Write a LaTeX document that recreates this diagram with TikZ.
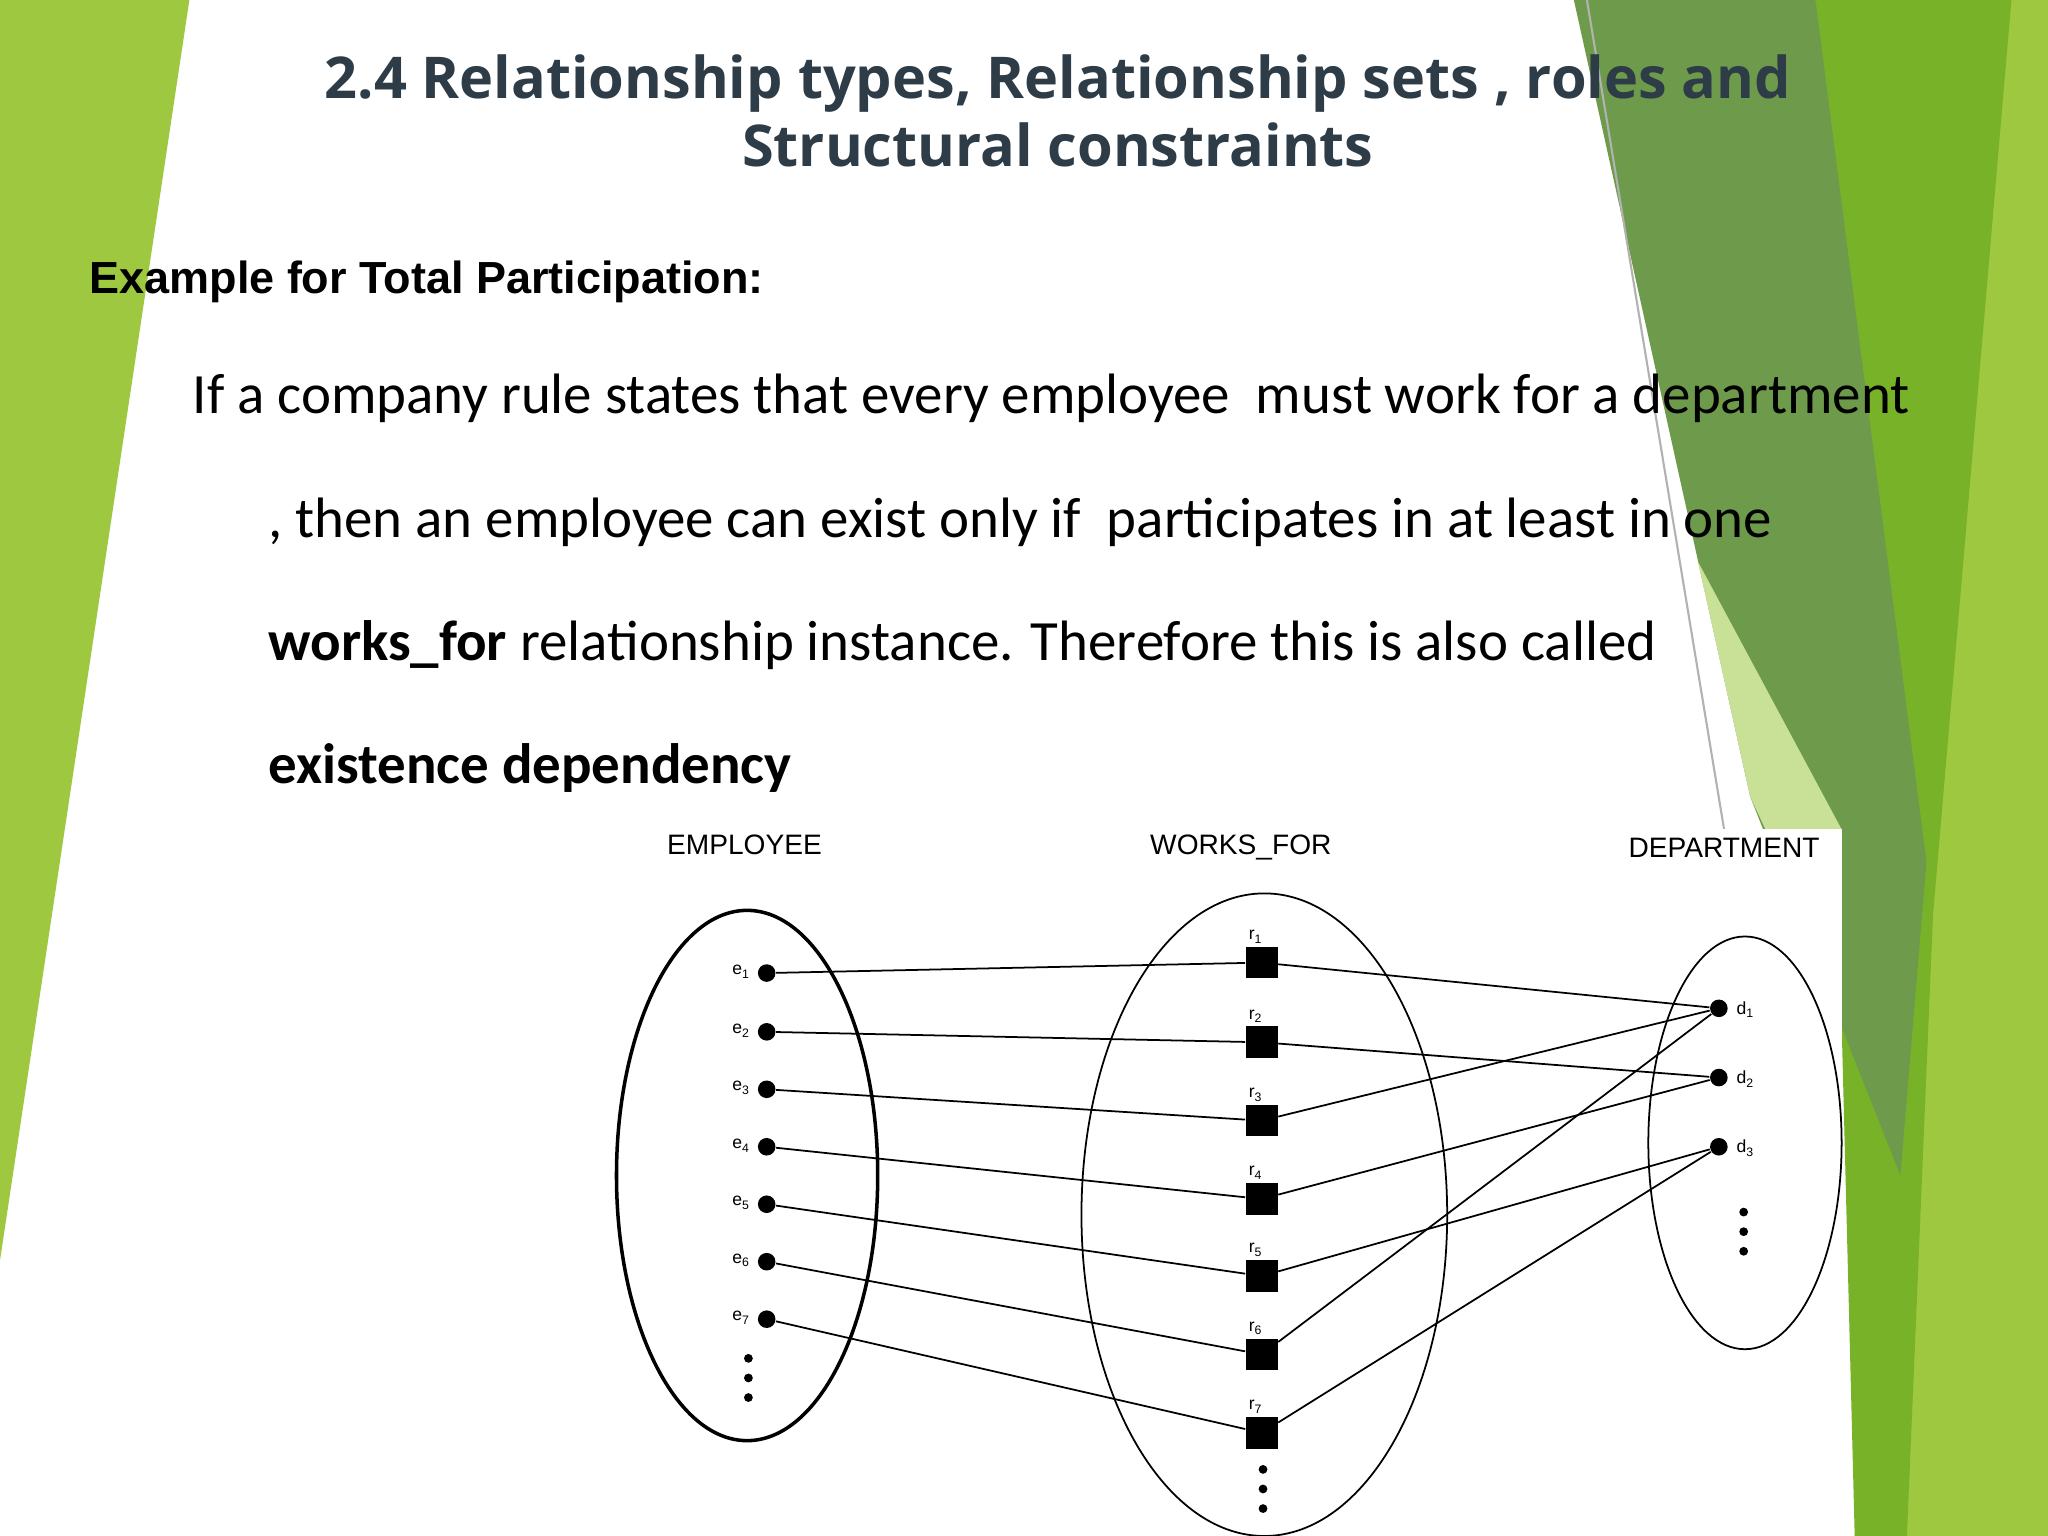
\documentclass[tikz,border=0pt]{standalone}
\usepackage{fontspec}
\setmainfont{Open Sans}
\newfontfamily\arial{Liberation Sans}
\newfontfamily\calib{Carlito}
\newcommand{\subs}[1]{\raisebox{-0.4ex}{\fontsize{3.5}{4}\selectfont #1}}
\begin{document}
\begin{tikzpicture}[x=0.013061cm,y=-0.013061cm,
  pt/.style={circle,fill=black,inner sep=0pt,minimum size=5pt},
  sq/.style={rectangle,fill=black,inner sep=0pt,minimum size=9pt},
  lab/.style={font=\arial\fontsize{5}{6}\selectfont,inner sep=0pt},
  head/.style={font=\arial\fontsize{8}{9}\selectfont},
  body/.style={anchor=west,font=\calib\fontsize{16.2}{19}\selectfont,inner sep=0pt},
  dot/.style={circle,fill=black,inner sep=0pt,minimum size=2.5pt},
  ln/.style={line width=0.5pt}]
\useasboundingbox (0,0) rectangle (1568,1176);
\fill[white] (0,0) rectangle (1568,1176);
% decorations
\fill[color={rgb,255:red,157;green,200;blue,63}] (0,0)--(145,0)--(0,965)--cycle;
\fill[color={rgb,255:red,157;green,200;blue,63}] (1385,0)--(1568,0)--(1568,1176)--(1420,1176)--(1470,650)--cycle;
\fill[color={rgb,255:red,120;green,178;blue,40}] (1390,0)--(1540,0)--(1480,700)--(1460,1176)--(1420,1176)--cycle;
\fill[color={rgb,255:red,110;green,155;blue,75}] (1205,0)--(1390,0)--(1475,660)--(1455,900)--(1340,610)--cycle;
\fill[color={rgb,255:red,200;green,225;blue,150}] (1300,430)--(1340,610)--(1410,760)--(1410,635)--cycle;
\draw[gray!60,line width=0.6pt] (1215,0)--(1320,635);
% white diagram area
\fill[white] (420,635) rectangle (1410,1176);
% texts
\node[font=\bfseries\fontsize{16.4}{19.5}\selectfont,align=center,color={rgb,255:red,45;green,60;blue,70}] (title) at (810,85) {2.4 Relationship types, Relationship sets , roles and\\ Structural constraints};
\node[anchor=west,inner sep=0pt,font=\arial\bfseries\fontsize{12.8}{15}\selectfont] (ex) at (68,216) {Example for Total Participation:};
\node[body] (l1) at (147,305) {If a company rule states that every employee\ \ must work for a department};
\node[body] (l2) at (205,400) {, then an employee can exist only if\ \ participates in at least in one};
\node[body] (l3) at (205,494) {\textbf{works\_for} relationship instance. Therefore this is also called};
\node[body,font=\calib\bfseries\fontsize{16.2}{19}\selectfont] (l4) at (205,588) {existence dependency};
% headers
\node[head] (h1) at (570,647) {EMPLOYEE};
\node[head] (h2) at (950,649) {WORKS\_FOR};
\node[head] (h3) at (1320,649) {DEPARTMENT};
% ellipses
\draw[line width=1pt] (572,900) ellipse [x radius=100,y radius=203];
\begin{scope}
\clip (420,635) rectangle (1410,1176);
\draw[ln] (968,930) ellipse [x radius=140,y radius=246];
\end{scope}
\draw[ln] (1336,875) ellipse [x radius=74,y radius=158];
% points
\foreach \i/\y in {1/745,2/790,3/834,4/878,5/922,6/966,7/1010}{
  \node[pt] (e\i) at (587,\y) {};
  \node[lab] at (567,\y-1) {e\subs{\i}};
}
\foreach \i/\y in {1/737,2/798,3/858,4/918,5/977,6/1037,7/1097}{
  \node[sq] (r\i) at (966,\y) {};
  \node[lab] at (961,\y-20) {r\subs{\i}};
}
\foreach \i/\y in {1/772,2/825,3/878}{
  \node[pt] (d\i) at (1316,\y) {};
  \node[lab] at (1336,\y+1) {d\subs{\i}};
}
\foreach \y in {1040,1055,1070} \node[dot] at (573,\y) {};
\foreach \y in {1125,1140,1155} \node[dot] at (967,\y) {};
\foreach \y in {928,943,958} \node[dot] at (1335,\y) {};
\foreach \i in {1,...,7} \draw[ln] (e\i)--(r\i);
\foreach \a/\b in {1/1,2/2,3/1,4/2,5/3,6/1,7/3} \draw[ln] (r\a)--(d\b);
\end{tikzpicture}
\end{document}
